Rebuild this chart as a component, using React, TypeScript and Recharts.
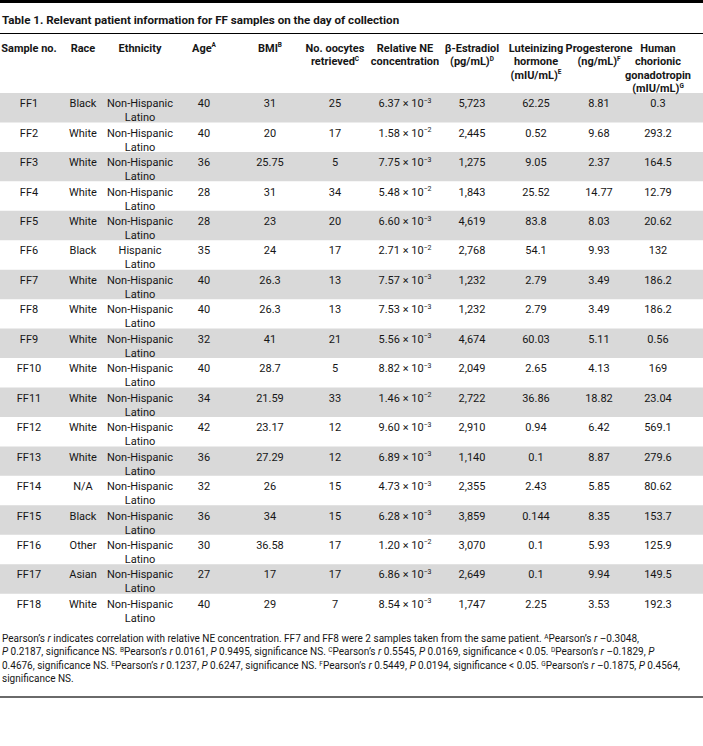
import React from 'react';
import { ScatterChart, Scatter, XAxis, YAxis, ReferenceArea } from 'recharts';

// table content
const samples = ['FF1', 'FF2', 'FF3', 'FF4', 'FF5', 'FF6', 'FF7', 'FF8', 'FF9', 'FF10', 'FF11', 'FF12', 'FF13', 'FF14', 'FF15', 'FF16', 'FF17', 'FF18'];
const races = ['Black', 'White', 'White', 'White', 'White', 'Black', 'White', 'White', 'White', 'White', 'White', 'White', 'White', 'N/A', 'Black', 'Other', 'Asian', 'White'];
const ethnicities = [
  'Non-Hispanic Latino', 'Non-Hispanic Latino', 'Non-Hispanic Latino', 'Non-Hispanic Latino', 'Non-Hispanic Latino', 'Hispanic Latino',
  'Non-Hispanic Latino', 'Non-Hispanic Latino', 'Non-Hispanic Latino', 'Non-Hispanic Latino', 'Non-Hispanic Latino', 'Non-Hispanic Latino',
  'Non-Hispanic Latino', 'Non-Hispanic Latino', 'Non-Hispanic Latino', 'Non-Hispanic Latino', 'Non-Hispanic Latino', 'Non-Hispanic Latino',
];
const ages = ['40', '40', '36', '28', '28', '35', '40', '40', '32', '40', '34', '42', '36', '32', '36', '30', '27', '40'];
const bmis = ['31', '20', '25.75', '31', '23', '24', '26.3', '26.3', '41', '28.7', '21.59', '23.17', '27.29', '26', '34', '36.58', '17', '29'];
const oocytes = ['25', '17', '5', '34', '20', '17', '13', '13', '21', '5', '33', '12', '12', '15', '15', '17', '17', '7'];
const neMantissa = ['6.37', '1.58', '7.75', '5.48', '6.60', '2.71', '7.57', '7.53', '5.56', '8.82', '1.46', '9.60', '6.89', '4.73', '6.28', '1.20', '6.86', '8.54'];
const neExponent = ['3', '2', '3', '2', '3', '2', '3', '3', '3', '3', '2', '3', '3', '3', '3', '2', '3', '3'];
const estradiol = ['5,723', '2,445', '1,275', '1,843', '4,619', '2,768', '1,232', '1,232', '4,674', '2,049', '2,722', '2,910', '1,140', '2,355', '3,859', '3,070', '2,649', '1,747'];
const lh = ['62.25', '0.52', '9.05', '25.52', '83.8', '54.1', '2.79', '2.79', '60.03', '2.65', '36.86', '0.94', '0.1', '2.43', '0.144', '0.1', '0.1', '2.25'];
const progesterone = ['8.81', '9.68', '2.37', '14.77', '8.03', '9.93', '3.49', '3.49', '5.11', '4.13', '18.82', '6.42', '8.87', '5.85', '8.35', '5.93', '9.94', '3.53'];
const hcg = ['0.3', '293.2', '164.5', '12.79', '20.62', '132', '186.2', '186.2', '0.56', '169', '23.04', '569.1', '279.6', '80.62', '153.7', '125.9', '149.5', '192.3'];

type Line = { text: string; sup?: string };

const headers: Line[][] = [
  [{ text: 'Sample no.' }],
  [{ text: 'Race' }],
  [{ text: 'Ethnicity' }],
  [{ text: 'Age', sup: 'A' }],
  [{ text: 'BMI', sup: 'B' }],
  [{ text: 'No. oocytes' }, { text: 'retrieved', sup: 'C' }],
  [{ text: 'Relative NE' }, { text: 'concentration' }],
  [{ text: 'β-Estradiol' }, { text: '(pg/mL)', sup: 'D' }],
  [{ text: 'Luteinizing' }, { text: 'hormone' }, { text: '(mIU/mL)', sup: 'E' }],
  [{ text: 'Progesterone' }, { text: '(ng/mL)', sup: 'F' }],
  [{ text: 'Human' }, { text: 'chorionic' }, { text: 'gonadotropin' }, { text: '(mIU/mL)', sup: 'G' }],
];

const columnCells: Line[][][] = [
  samples.map((s) => [{ text: s }]),
  races.map((s) => [{ text: s }]),
  ethnicities.map((s) => s.split(' ').map((w) => ({ text: w }))),
  ages.map((s) => [{ text: s }]),
  bmis.map((s) => [{ text: s }]),
  oocytes.map((s) => [{ text: s }]),
  neMantissa.map((m, i) => [{ text: `${m} × 10`, sup: `−${neExponent[i]}` }]),
  estradiol.map((s) => [{ text: s }]),
  lh.map((s) => [{ text: s }]),
  progesterone.map((s) => [{ text: s }]),
  hcg.map((s) => [{ text: s }]),
];

// layout
const W = 703;
const CHART_TOP = 34;
const HEAD_H = 59;
const ROW_H = 29.45;
const BODY_H = ROW_H * samples.length;
const BOTTOM_PAD = 8;
const colCenters = [29, 83, 140, 204, 270, 335, 405, 472, 536, 599, 658];
const FONT = 'Roboto, "Noto Sans", sans-serif';
const INK = '#161616';

const HeaderTick = (props: any) => {
  const { x, payload } = props;
  const idx = colCenters.indexOf(payload.value);
  const lines = headers[idx] || [];
  return (
    <g>
      {lines.map((l, k) => (
        <text key={k} x={x} y={18 + k * 13.5} textAnchor="middle" fontFamily={FONT} fontSize={11} fontWeight={700} fill={INK}>
          {l.text}
          {l.sup && (
            <tspan fontSize={6.5} dy={-4.5}>
              {l.sup}
            </tspan>
          )}
        </text>
      ))}
    </g>
  );
};

const CellText = (props: any) => {
  const { cx, cy } = props;
  const p = props.payload || props;
  const lines: Line[] = p.lines || [];
  return (
    <g>
      {lines.map((l, k) => (
        <text key={k} x={cx} y={cy - 0.5 + k * 14} textAnchor="middle" fontFamily={FONT} fontSize={11} fill={INK}>
          {l.text}
          {l.sup && (
            <tspan fontSize={7} dy={-4.5}>
              {l.sup}
            </tspan>
          )}
        </text>
      ))}
    </g>
  );
};

const Footnotes = () => (
  <>
    <div>
      Pearson’s <i>r</i> indicates correlation with relative NE concentration. FF7 and FF8 were 2 samples taken from the same patient. <sup>A</sup>Pearson’s <i>r</i> –0.3048,
    </div>
    <div>
      <i>P</i> 0.2187, significance NS. <sup>B</sup>Pearson’s <i>r</i> 0.0161, <i>P</i> 0.9495, significance NS. <sup>C</sup>Pearson’s <i>r</i> 0.5545, <i>P</i> 0.0169, significance &lt; 0.05. <sup>D</sup>Pearson’s <i>r</i> –0.1829, <i>P</i>
    </div>
    <div>
      0.4676, significance NS. <sup>E</sup>Pearson’s <i>r</i> 0.1237, <i>P</i> 0.6247, significance NS. <sup>F</sup>Pearson’s <i>r</i> 0.5449, <i>P</i> 0.0194, significance &lt; 0.05. <sup>G</sup>Pearson’s <i>r</i> –0.1875, <i>P</i> 0.4564,
    </div>
    <div>significance NS.</div>
  </>
);

const App: React.FC = () => {
  return (
    <div style={{ position: 'absolute', left: 0, top: 0, width: W, height: 746, overflow: 'hidden', background: '#fff', fontFamily: FONT, color: INK }}>
      <style>{`.fn sup{font-size:0.65em;line-height:0;vertical-align:0.45em}`}</style>
      <div style={{ position: 'absolute', left: 0, top: 0, width: W, height: 3, background: '#000' }} />
      <div style={{ position: 'absolute', left: 2, top: 13, lineHeight: '14px', fontSize: 11.6, fontWeight: 700, whiteSpace: 'nowrap' }}>
        Table 1. Relevant patient information for FF samples on the day of collection
      </div>
      <div style={{ position: 'absolute', left: 0, top: 33, width: W, height: 1, background: '#000' }} />
      <div style={{ position: 'absolute', left: 0, top: CHART_TOP }}>
        <ScatterChart width={W} height={HEAD_H + BODY_H + BOTTOM_PAD} margin={{ top: 0, right: 0, bottom: BOTTOM_PAD, left: 0 }}>
          <XAxis
            type="number"
            dataKey="x"
            orientation="top"
            domain={[0, W]}
            ticks={colCenters}
            interval={0}
            height={HEAD_H}
            axisLine={false}
            tickLine={false}
            tick={(p: any) => <HeaderTick {...p} />}
          />
          <YAxis type="number" dataKey="row" domain={[-0.5, samples.length - 0.5]} reversed hide />
          {samples.map((s, i) =>
            i % 2 === 0 ? (
              <ReferenceArea key={s} y1={i - 0.5} y2={i + 0.5} fill="#d9d9d9" fillOpacity={1} stroke="none" />
            ) : null
          )}
          {columnCells.map((cells, c) => (
            <Scatter
              key={c}
              data={cells.map((lines, i) => ({ x: colCenters[c], row: i, lines }))}
              shape={(p: any) => <CellText {...p} />}
              isAnimationActive={false}
            />
          ))}
        </ScatterChart>
      </div>
      <div className="fn" style={{ position: 'absolute', left: 2, top: 632, fontSize: 10, lineHeight: '13.4px', whiteSpace: 'nowrap' }}>
        <Footnotes />
      </div>
      <div style={{ position: 'absolute', left: 0, top: 696, width: W, height: 2, background: '#6a6a6a' }} />
    </div>
  );
};

export default App;
